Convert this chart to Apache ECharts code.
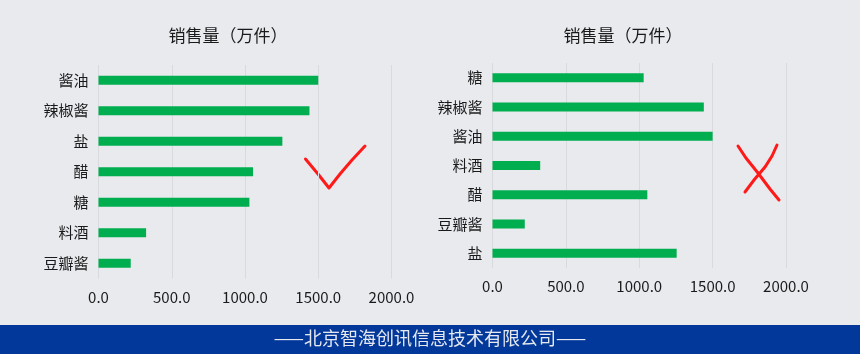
<!DOCTYPE html>
<html>
<head>
<meta charset="utf-8">
<script src="https://cdn.jsdelivr.net/npm/echarts@6/dist/echarts.min.js"></script>
<style>
  html, body { margin: 0; padding: 0; background: #e9eaee; }
  #chart { width: 860px; height: 354px; }
</style>
</head>
<body>
<div id="chart"></div>
<script>
// 左图：按销量排序
const sortedNames = ['酱油', '辣椒酱', '盐', '醋', '糖', '料酒', '豆瓣酱']
const sortedValues = [1500, 1440, 1255, 1055, 1030, 325, 220]
// 右图：未排序
const rawNames = ['糖', '辣椒酱', '酱油', '料酒', '醋', '豆瓣酱', '盐']
const rawValues = [1030, 1440, 1500, 325, 1055, 220, 1255]
const xTicks = [0, 500, 1000, 1500, 2000]
const titleText = '销售量（万件）'
const footerText = '——北京智海创讯信息技术有限公司——'

const font = '"Noto Sans CJK SC", "Noto Sans", sans-serif'
const barColor = '#00ad4f'

const chart = echarts.init(document.getElementById('chart'))

const makeX = (gridIndex) => ({
  type: 'value',
  gridIndex,
  min: xTicks[0],
  max: xTicks[xTicks.length - 1],
  interval: xTicks[1] - xTicks[0],
  axisLine: { show: false },
  axisTick: { show: false },
  axisLabel: {
    color: '#1a1a1a',
    fontSize: 15,
    fontFamily: font,
    margin: 11,
    formatter: (v) => v.toFixed(1)
  },
  splitLine: { lineStyle: { color: '#d9dadd', width: 1 } }
})

const makeY = (gridIndex, names) => ({
  type: 'category',
  gridIndex,
  inverse: true,
  data: names,
  axisLine: { show: false },
  axisTick: { show: false },
  axisLabel: { color: '#1a1a1a', fontSize: 15, fontFamily: font, margin: 10 }
})

const option = {
  backgroundColor: '#e9eaee',
  animation: false,
  title: [
    {
      text: titleText,
      left: 223,
      top: 22,
      textAlign: 'center',
      textStyle: { fontSize: 17, fontWeight: 'normal', color: '#1a1a1a', fontFamily: font }
    },
    {
      text: titleText,
      left: 618,
      top: 22,
      textAlign: 'center',
      textStyle: { fontSize: 17, fontWeight: 'normal', color: '#1a1a1a', fontFamily: font }
    }
  ],
  grid: [
    { left: 98.5, width: 293, top: 65, height: 213.5 },
    { left: 492.5, width: 293.5, top: 63, height: 205 }
  ],
  xAxis: [makeX(0), makeX(1)],
  yAxis: [makeY(0, sortedNames), makeY(1, rawNames)],
  series: [
    {
      type: 'bar',
      xAxisIndex: 0,
      yAxisIndex: 0,
      data: sortedValues,
      barWidth: 9,
      itemStyle: { color: barColor }
    },
    {
      type: 'bar',
      xAxisIndex: 1,
      yAxisIndex: 1,
      data: rawValues,
      barWidth: 9,
      itemStyle: { color: barColor }
    }
  ],
  graphic: [
    // 底部蓝色横条
    {
      type: 'rect',
      left: 0,
      top: 325,
      shape: { width: 860, height: 29 },
      style: { fill: '#023899' }
    },
    {
      type: 'text',
      left: 'center',
      top: 329,
      style: { text: footerText, fill: '#e6e8f0', fontSize: 18, fontFamily: font }
    },
    // 手绘的勾
    {
      type: 'polyline',
      shape: { points: [[305.5, 159], [318, 174], [329, 188], [340, 174], [352, 160], [365, 146]] },
      style: { stroke: '#ff1a1a', lineWidth: 3, fill: null, lineCap: 'round', lineJoin: 'round' }
    },
    // 手绘的叉
    {
      type: 'polyline',
      shape: { points: [[738, 146], [746, 158], [758, 173], [770, 189], [779, 200]] },
      style: { stroke: '#ff1a1a', lineWidth: 3, fill: null, lineCap: 'round' }
    },
    {
      type: 'polyline',
      shape: { points: [[777, 145], [772, 156], [765, 167], [754, 180], [745, 192]] },
      style: { stroke: '#ff1a1a', lineWidth: 3, fill: null, lineCap: 'round' }
    }
  ]
}

chart.setOption(option)
</script>
</body>
</html>
